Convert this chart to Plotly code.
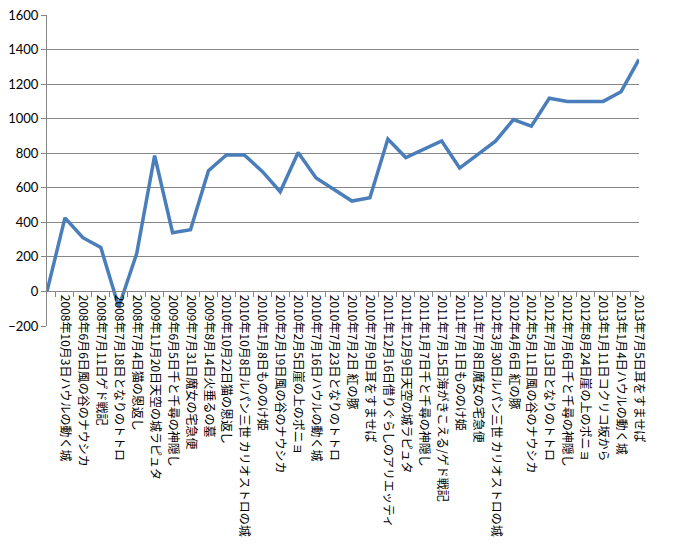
import plotly.graph_objects as go

# category labels (first category has no label)
dates = [
    " ",
    "2008年10月3日ハウルの動く城",
    "2008年6月6日風の谷のナウシカ",
    "2008年7月11日ゲド戦記",
    "2008年7月18日となりのトトロ",
    "2008年7月4日猫の恩返し",
    "2009年11月20日天空の城ラピュタ",
    "2009年6月5日千と千尋の神隠し",
    "2009年7月31日魔女の宅急便",
    "2009年8月14日火垂るの墓",
    "2010年10月22日猫の恩返し",
    "2010年10月8日ルパン三世 カリオストロの城",
    "2010年1月8日もののけ姫",
    "2010年2月19日風の谷のナウシカ",
    "2010年2月5日崖の上のポニョ",
    "2010年7月16日ハウルの動く城",
    "2010年7月23日となりのトトロ",
    "2010年7月2日 紅の豚",
    "2010年7月9日耳をすませば",
    "2011年12月16日借りぐらしのアリエッティ",
    "2011年12月9日天空の城ラピュタ",
    "2011年1月7日千と千尋の神隠し",
    "2011年7月15日海がきこえる/ゲド戦記",
    "2011年7月1日もののけ姫",
    "2011年7月8日魔女の宅急便",
    "2012年3月30日ルパン三世 カリオストロの城",
    "2012年4月6日 紅の豚",
    "2012年5月11日風の谷のナウシカ",
    "2012年7月13日となりのトトロ",
    "2012年7月6日千と千尋の神隠し",
    "2012年8月24日崖の上のポニョ",
    "2013年1月11日コクリコ坂から",
    "2013年1月4日ハウルの動く城",
    "2013年7月5日耳をすませば",
]

values = [
    0, 426, 311, 254, -90, 219, 786, 340, 357, 699,
    790, 790, 695, 577, 804, 657, 590, 523, 542, 882,
    775, 823, 871, 714, 790, 870, 995, 957, 1118, 1100,
    1100, 1100, 1156, 1343,
]

y_min, y_max = -200, 1600

fig = go.Figure()
fig.add_trace(go.Scatter(
    x=dates, y=values,
    mode="lines",
    line=dict(color="#4A7EBB", width=3.5),
    showlegend=False,
))

# page body adds 8px, so the figure is a bit smaller than the window
fig.update_layout(
    width=670, height=551,
    margin=dict(l=39, r=39, t=7, b=233),
    plot_bgcolor="white",
    paper_bgcolor="white",
    xaxis=dict(
        type="category",
        categoryorder="array",
        categoryarray=dates,
        anchor="free",
        position=(0 - y_min) / (y_max - y_min),  # axis crosses at y = 0
        showline=True, linecolor="#868686", linewidth=1,
        ticks="outside", tickson="boundaries", ticklen=5, tickcolor="#868686",
        tickangle=90,
        tickfont=dict(family="Noto Sans CJK JP", size=12, color="black"),
        showgrid=False,
        zeroline=False,
        automargin=False,
    ),
    yaxis=dict(
        range=[y_min, y_max],
        dtick=200,
        showline=True, linecolor="#868686", linewidth=1,
        ticks="outside", ticklen=5, tickcolor="#868686",
        gridcolor="#868686", gridwidth=1,
        zeroline=False,
        automargin=False,
        ticklabeloverflow="allow",
        tickfont=dict(family="Lato", size=13, color="black"),
    ),
)

fig.write_html("out.html")
